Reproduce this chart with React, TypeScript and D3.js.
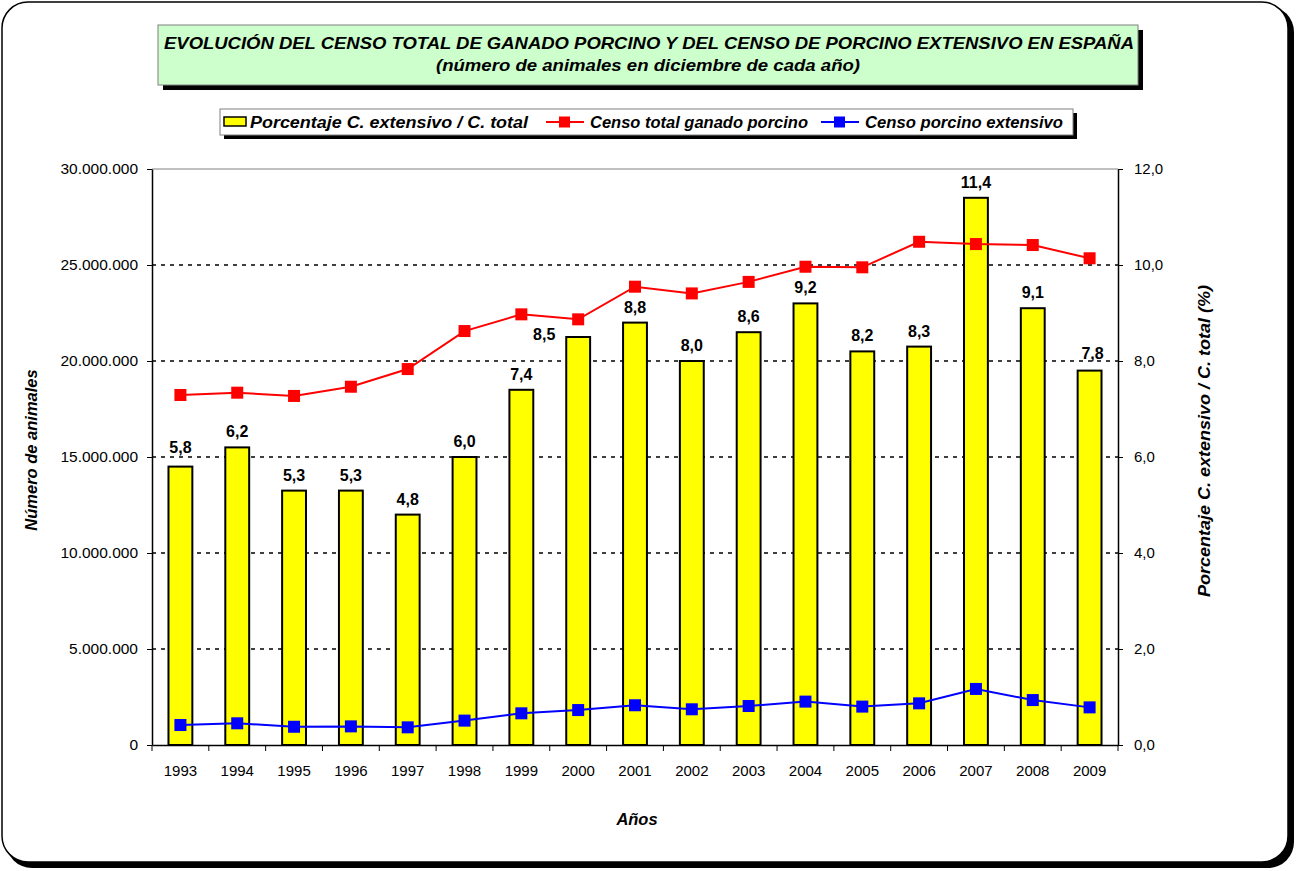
import React, { useEffect, useRef } from 'react';
import { scaleBand, scaleLinear, select, axisLeft, axisRight, axisBottom, line } from 'd3';

const years = ['1993', '1994', '1995', '1996', '1997', '1998', '1999', '2000', '2001', '2002', '2003', '2004', '2005', '2006', '2007', '2008', '2009'];
// porcentaje censo extensivo / censo total
const pctExtensivo = [5.8, 6.2, 5.3, 5.3, 4.8, 6.0, 7.4, 8.5, 8.8, 8.0, 8.6, 9.2, 8.2, 8.3, 11.4, 9.1, 7.8];
const censoTotal = [18230000, 18350000, 18180000, 18660000, 19580000, 21560000, 22430000, 22170000, 23870000, 23520000, 24120000, 24910000, 24880000, 26210000, 26090000, 26040000, 25350000];
const censoExtensivo = [1040000, 1130000, 950000, 970000, 920000, 1270000, 1650000, 1820000, 2070000, 1860000, 2030000, 2260000, 2000000, 2170000, 2920000, 2340000, 1960000];
const leftTicks = [0, 5000000, 10000000, 15000000, 20000000, 25000000, 30000000];
const rightTicks = [0, 2, 4, 6, 8, 10, 12];

const W = 1298;
const H = 871;
const FONT = 'Arial, "Liberation Sans", sans-serif';

const fmtMillones = (v: number) => (v === 0 ? '0' : String(v).replace(/\B(?=(\d{3})+(?!\d))/g, '.'));
const fmtPct = (v: number) => v.toFixed(1).replace('.', ',');

const App = () => {
  const svgRef = useRef<SVGSVGElement>(null);
  const margin = { top: 169, right: 180, bottom: 126, left: 152 };
  const plotW = W - margin.left - margin.right;
  const plotH = H - margin.top - margin.bottom;

  useEffect(() => {
    const svg = select(svgRef.current);
    svg.selectAll('*').remove();

    // marco exterior con sombra
    svg.append('rect')
      .attr('x', 6).attr('y', 6).attr('width', 1288).attr('height', 862)
      .attr('rx', 26).attr('fill', '#000');
    svg.append('rect')
      .attr('x', 2).attr('y', 2).attr('width', 1286).attr('height', 860)
      .attr('rx', 26).attr('fill', '#fff').attr('stroke', '#000').attr('stroke-width', 1.5);

    // titulo
    svg.append('rect').attr('x', 163).attr('y', 30).attr('width', 980).attr('height', 60).attr('fill', '#000');
    svg.append('rect').attr('x', 158).attr('y', 25).attr('width', 980).attr('height', 60)
      .attr('fill', '#CCFFCC').attr('stroke', '#808080').attr('stroke-width', 1);
    const title = svg.append('g')
      .style('font-family', FONT).style('font-weight', 'bold').style('font-style', 'italic').style('font-size', '17px');
    title.append('text').attr('x', 164).attr('y', 49).attr('textLength', 970).attr('lengthAdjust', 'spacingAndGlyphs')
      .text('EVOLUCIÓN DEL CENSO TOTAL DE GANADO PORCINO Y DEL CENSO DE PORCINO EXTENSIVO EN ESPAÑA');
    title.append('text').attr('x', 436).attr('y', 71).attr('textLength', 424).attr('lengthAdjust', 'spacingAndGlyphs')
      .text('(número de animales en diciembre de cada año)');

    // leyenda
    svg.append('rect').attr('x', 224).attr('y', 113).attr('width', 853).attr('height', 26).attr('fill', '#000');
    svg.append('rect').attr('x', 220).attr('y', 109).attr('width', 853).attr('height', 26)
      .attr('fill', '#fff').attr('stroke', '#808080').attr('stroke-width', 1);
    const leg = svg.append('g').style('font-family', FONT).style('font-weight', 'bold')
      .style('font-style', 'italic').style('font-size', '16px');
    leg.append('rect').attr('x', 224).attr('y', 117).attr('width', 22).attr('height', 9)
      .attr('fill', '#FFFF00').attr('stroke', '#000').attr('stroke-width', 1.5);
    leg.append('text').attr('x', 250).attr('y', 128).attr('textLength', 278).attr('lengthAdjust', 'spacingAndGlyphs')
      .text('Porcentaje C. extensivo / C. total');
    const legendLines = [
      { x: 546, color: '#FF0000', label: 'Censo total ganado porcino', len: 218 },
      { x: 821, color: '#0000FF', label: 'Censo porcino extensivo', len: 198 },
    ];
    legendLines.forEach(l => {
      leg.append('line').attr('x1', l.x).attr('x2', l.x + 38).attr('y1', 122).attr('y2', 122)
        .attr('stroke', l.color).attr('stroke-width', 2);
      leg.append('rect').attr('x', l.x + 13).attr('y', 116.5).attr('width', 11).attr('height', 11).attr('fill', l.color);
      leg.append('text').attr('x', l.x + 44).attr('y', 128).attr('textLength', l.len).attr('lengthAdjust', 'spacingAndGlyphs')
        .text(l.label);
    });

    const g = svg.append('g').attr('transform', `translate(${margin.left}, ${margin.top})`);

    const xScale = scaleBand().domain(years).range([0, plotW]).paddingInner(0.58).paddingOuter(0.29);
    const yLeft = scaleLinear().domain([0, 30000000]).range([plotH, 0]);
    const yRight = scaleLinear().domain([0, 12]).range([plotH, 0]);
    const xCenter = (i: number) => (xScale(years[i]) as number) + xScale.bandwidth() / 2;

    // borde superior del area
    g.append('line').attr('x1', 0).attr('x2', plotW).attr('y1', 0).attr('y2', 0)
      .attr('stroke', '#808080').attr('stroke-width', 1);

    // rejilla
    g.selectAll('.grid').data(leftTicks.filter(t => t > 0 && t < 30000000)).enter().append('line')
      .attr('x1', 0).attr('x2', plotW)
      .attr('y1', d => yLeft(d)).attr('y2', d => yLeft(d))
      .attr('stroke', '#000').attr('stroke-width', 1.5).attr('stroke-dasharray', '4,5');

    // barras
    g.selectAll('.bar').data(pctExtensivo).enter().append('rect')
      .attr('x', (d, i) => xScale(years[i]) as number)
      .attr('y', d => yRight(d))
      .attr('width', xScale.bandwidth())
      .attr('height', d => plotH - yRight(d))
      .attr('fill', '#FFFF00').attr('stroke', '#000').attr('stroke-width', 2);

    // etiquetas de barras
    const labelShift: Record<number, [number, number]> = { 0: [0, -4], 7: [-34, 13], 16: [3, -2] };
    g.selectAll('.lbl').data(pctExtensivo).enter().append('text')
      .attr('x', (d, i) => xCenter(i) + (labelShift[i] ? labelShift[i][0] : 0))
      .attr('y', (d, i) => yRight(d) - 10 + (labelShift[i] ? labelShift[i][1] : 0))
      .attr('text-anchor', 'middle')
      .style('font-family', FONT).style('font-weight', 'bold').style('font-size', '16px')
      .text(d => fmtPct(d));

    // lineas
    const series = [
      { data: censoTotal, color: '#FF0000' },
      { data: censoExtensivo, color: '#0000FF' },
    ];
    series.forEach(s => {
      const path = line<number>().x((d, i) => xCenter(i)).y(d => yLeft(d));
      g.append('path').datum(s.data).attr('d', path).attr('fill', 'none')
        .attr('stroke', s.color).attr('stroke-width', 2);
      g.selectAll(null).data(s.data).enter().append('rect')
        .attr('x', (d, i) => xCenter(i) - 6).attr('y', d => yLeft(d) - 6)
        .attr('width', 12).attr('height', 12).attr('fill', s.color);
    });

    // ejes
    const styleAxis = (sel: any) => {
      sel.selectAll('path').attr('stroke', '#000').attr('stroke-width', 1.5);
      sel.selectAll('line').attr('stroke', '#000').attr('stroke-width', 1);
      sel.selectAll('text').style('font-family', FONT).style('font-size', '15px').attr('fill', '#000');
    };
    const gl = g.append('g').call(axisLeft(yLeft).tickValues(leftTicks).tickFormat(d => fmtMillones(+d)).tickSize(5).tickSizeOuter(0).tickPadding(9));
    styleAxis(gl);
    gl.selectAll('text').style('font-size', '15.5px');
    const gr = g.append('g').attr('transform', `translate(${plotW},0)`)
      .call(axisRight(yRight).tickValues(rightTicks).tickFormat(d => fmtPct(+d)).tickSize(5).tickSizeOuter(0).tickPadding(11));
    styleAxis(gr);
    const gb = g.append('g').attr('transform', `translate(0,${plotH})`)
      .call(axisBottom(xScale).tickSize(0).tickSizeOuter(0).tickPadding(20));
    styleAxis(gb);
    // marcas entre categorias
    const step = xScale.step();
    g.selectAll('.xt').data(years.concat('end')).enter().append('line')
      .attr('x1', (d, i) => i * step).attr('x2', (d, i) => i * step)
      .attr('y1', plotH).attr('y2', plotH + 6)
      .attr('stroke', '#000').attr('stroke-width', 1);

    // titulos de ejes
    const axisTitle = (sel: any) => sel.style('font-family', FONT).style('font-weight', 'bold')
      .style('font-style', 'italic').style('font-size', '16.5px').attr('text-anchor', 'middle');
    axisTitle(svg.append('text').attr('x', 637).attr('y', 825).text('Años'));
    axisTitle(svg.append('text').attr('transform', 'translate(37,450) rotate(-90)').text('Número de animales'));
    axisTitle(svg.append('text').attr('transform', 'translate(1210,441) rotate(-90)')
      .attr('textLength', 312).attr('lengthAdjust', 'spacingAndGlyphs')
      .text('Porcentaje C. extensivo / C. total (%)'));

  // eslint-disable-next-line react-hooks/exhaustive-deps
  }, []);

  return (
    <svg ref={svgRef} width={W} height={H} style={{ position: 'absolute', left: 0, top: 0 }}></svg>
  );
};

export default App;
